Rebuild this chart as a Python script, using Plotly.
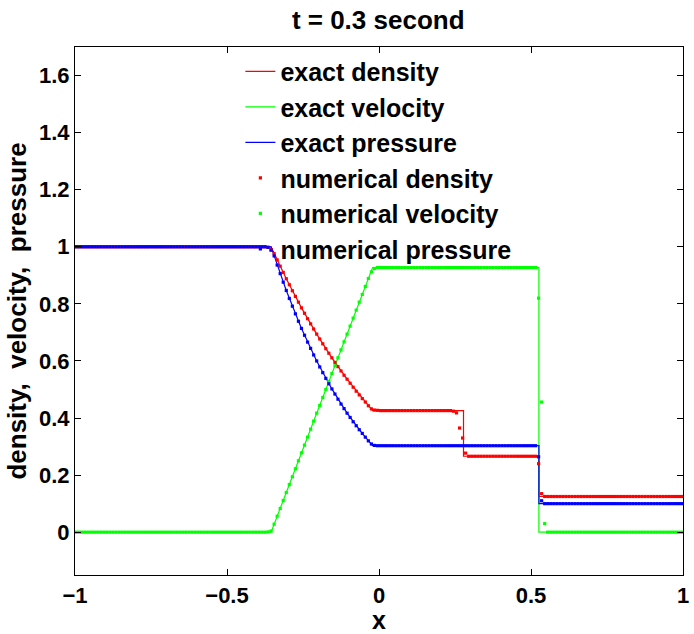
import numpy as np
import plotly.graph_objects as go

# ---------------- exact solution ----------------
exact_x = [-1.0, -0.355, -0.305, -0.255, -0.205, -0.155, -0.105, -0.055, -0.021,
           0.278, 0.278, 0.526, 0.526, 1.0]
exact_density = [1.0, 1.0, 0.888, 0.786, 0.694, 0.611, 0.536, 0.468, 0.426,
                 0.426, 0.266, 0.266, 0.125, 0.125]
exact_velocity = [0.0, 0.0, 0.139, 0.278, 0.417, 0.556, 0.694, 0.833, 0.927,
                  0.927, 0.927, 0.927, 0.0, 0.0]
exact_pressure = [1.0, 1.0, 0.847, 0.714, 0.600, 0.502, 0.417, 0.346, 0.303,
                  0.303, 0.303, 0.303, 0.1, 0.1]

# ---------------- numerical solution (cell centres) ----------------
num_x = np.round(np.arange(-0.995, 1.0, 0.01), 3)

rare_density = [0.990, 0.976, 0.954, 0.932, 0.910, 0.888, 0.867, 0.846, 0.826, 0.806,
                0.786, 0.767, 0.748, 0.730, 0.712, 0.694, 0.677, 0.660, 0.643, 0.627,
                0.611, 0.595, 0.580, 0.565, 0.550, 0.536, 0.522, 0.508, 0.494, 0.481,
                0.468, 0.456, 0.443, 0.432]
rare_velocity = [0.004, 0.028, 0.056, 0.083, 0.111, 0.139, 0.167, 0.194, 0.222, 0.250,
                 0.278, 0.305, 0.333, 0.361, 0.389, 0.417, 0.444, 0.472, 0.500, 0.528,
                 0.556, 0.583, 0.611, 0.639, 0.667, 0.694, 0.722, 0.750, 0.778, 0.806,
                 0.833, 0.861, 0.889, 0.912]
rare_pressure = [0.988, 0.968, 0.936, 0.906, 0.876, 0.847, 0.819, 0.792, 0.765, 0.739,
                 0.714, 0.690, 0.666, 0.644, 0.621, 0.600, 0.579, 0.559, 0.539, 0.520,
                 0.502, 0.484, 0.466, 0.449, 0.433, 0.417, 0.402, 0.387, 0.373, 0.359,
                 0.346, 0.333, 0.320, 0.309]

num_density = ([1.0] * 63 + [0.998] + rare_density
               + [0.428, 0.427] + [0.426] * 24
               + [0.424, 0.418, 0.365, 0.330, 0.277]
               + [0.266] * 23 + [0.240, 0.135] + [0.125] * 46)
num_velocity = ([0.0] * 63 + [0.001] + rare_velocity
                + [0.924] + [0.927] * 53
                + [0.820, 0.456, 0.030] + [0.0] * 45)
num_pressure = ([1.0] * 63 + [0.998] + rare_pressure
                + [0.304] + [0.303] * 53
                + [0.264, 0.110] + [0.1] * 46)

RED, GREEN, BLUE = "#ff0000", "#00ff00", "#0000ff"
FONT = "Liberation Sans, Arial, sans-serif"

fig = go.Figure()
for name, y, c in [("exact density", exact_density, RED),
                   ("exact velocity", exact_velocity, GREEN),
                   ("exact pressure", exact_pressure, BLUE)]:
    fig.add_trace(go.Scatter(x=exact_x, y=y, mode="lines", name=name,
                             line=dict(color=c, width=1.2)))
for name, y, c in [("numerical density", num_density, RED),
                   ("numerical velocity", num_velocity, GREEN),
                   ("numerical pressure", num_pressure, BLUE)]:
    fig.add_trace(go.Scatter(x=num_x, y=y, mode="markers", name=name,
                             marker=dict(color=c, size=3.2, symbol="square",
                                         line=dict(width=0))))

axis_common = dict(showline=True, linecolor="black", linewidth=1.2, mirror="ticks",
                   ticks="inside", ticklen=6, tickcolor="black", tickwidth=1,
                   showgrid=False, zeroline=False, ticklabeloverflow="allow",
                   tickfont=dict(family=FONT, size=22, color="black", weight="bold"))

fig.update_layout(
    width=694, height=634,
    margin=dict(l=75, r=5, t=47, b=59),
    paper_bgcolor="white", plot_bgcolor="white",
    title=dict(text="<b>t = 0.3 second</b>", x=0.545, xanchor="center",
               y=0.968, yanchor="middle",
               font=dict(family=FONT, size=26, color="black")),
    xaxis=dict(range=[-1, 1], tickvals=[-1, -0.5, 0, 0.5, 1],
               ticktext=["\u22121", "\u22120.5", "0", "0.5", "1"],
               title=dict(text="<b>x</b>", standoff=0,
                          font=dict(family=FONT, size=25, color="black")),
               **axis_common),
    yaxis=dict(range=[-0.15, 1.7], tickvals=[0, 0.2, 0.4, 0.6, 0.8, 1, 1.2, 1.4, 1.6],
               ticktext=["0", "0.2", "0.4", "0.6", "0.8", "1", "1.2", "1.4", "1.6"],
               title=dict(text="<b>density,  velocity,  pressure</b>", standoff=4,
                          font=dict(family=FONT, size=26, color="black")),
               **axis_common),
    legend=dict(x=0.272, y=0.997, xanchor="left", yanchor="top",
                bgcolor="rgba(255,255,255,0)", borderwidth=0,
                font=dict(family=FONT, size=25, color="black", weight="bold"),
                itemwidth=30, tracegroupgap=0),
    showlegend=True,
)

fig.write_html("out.html")
